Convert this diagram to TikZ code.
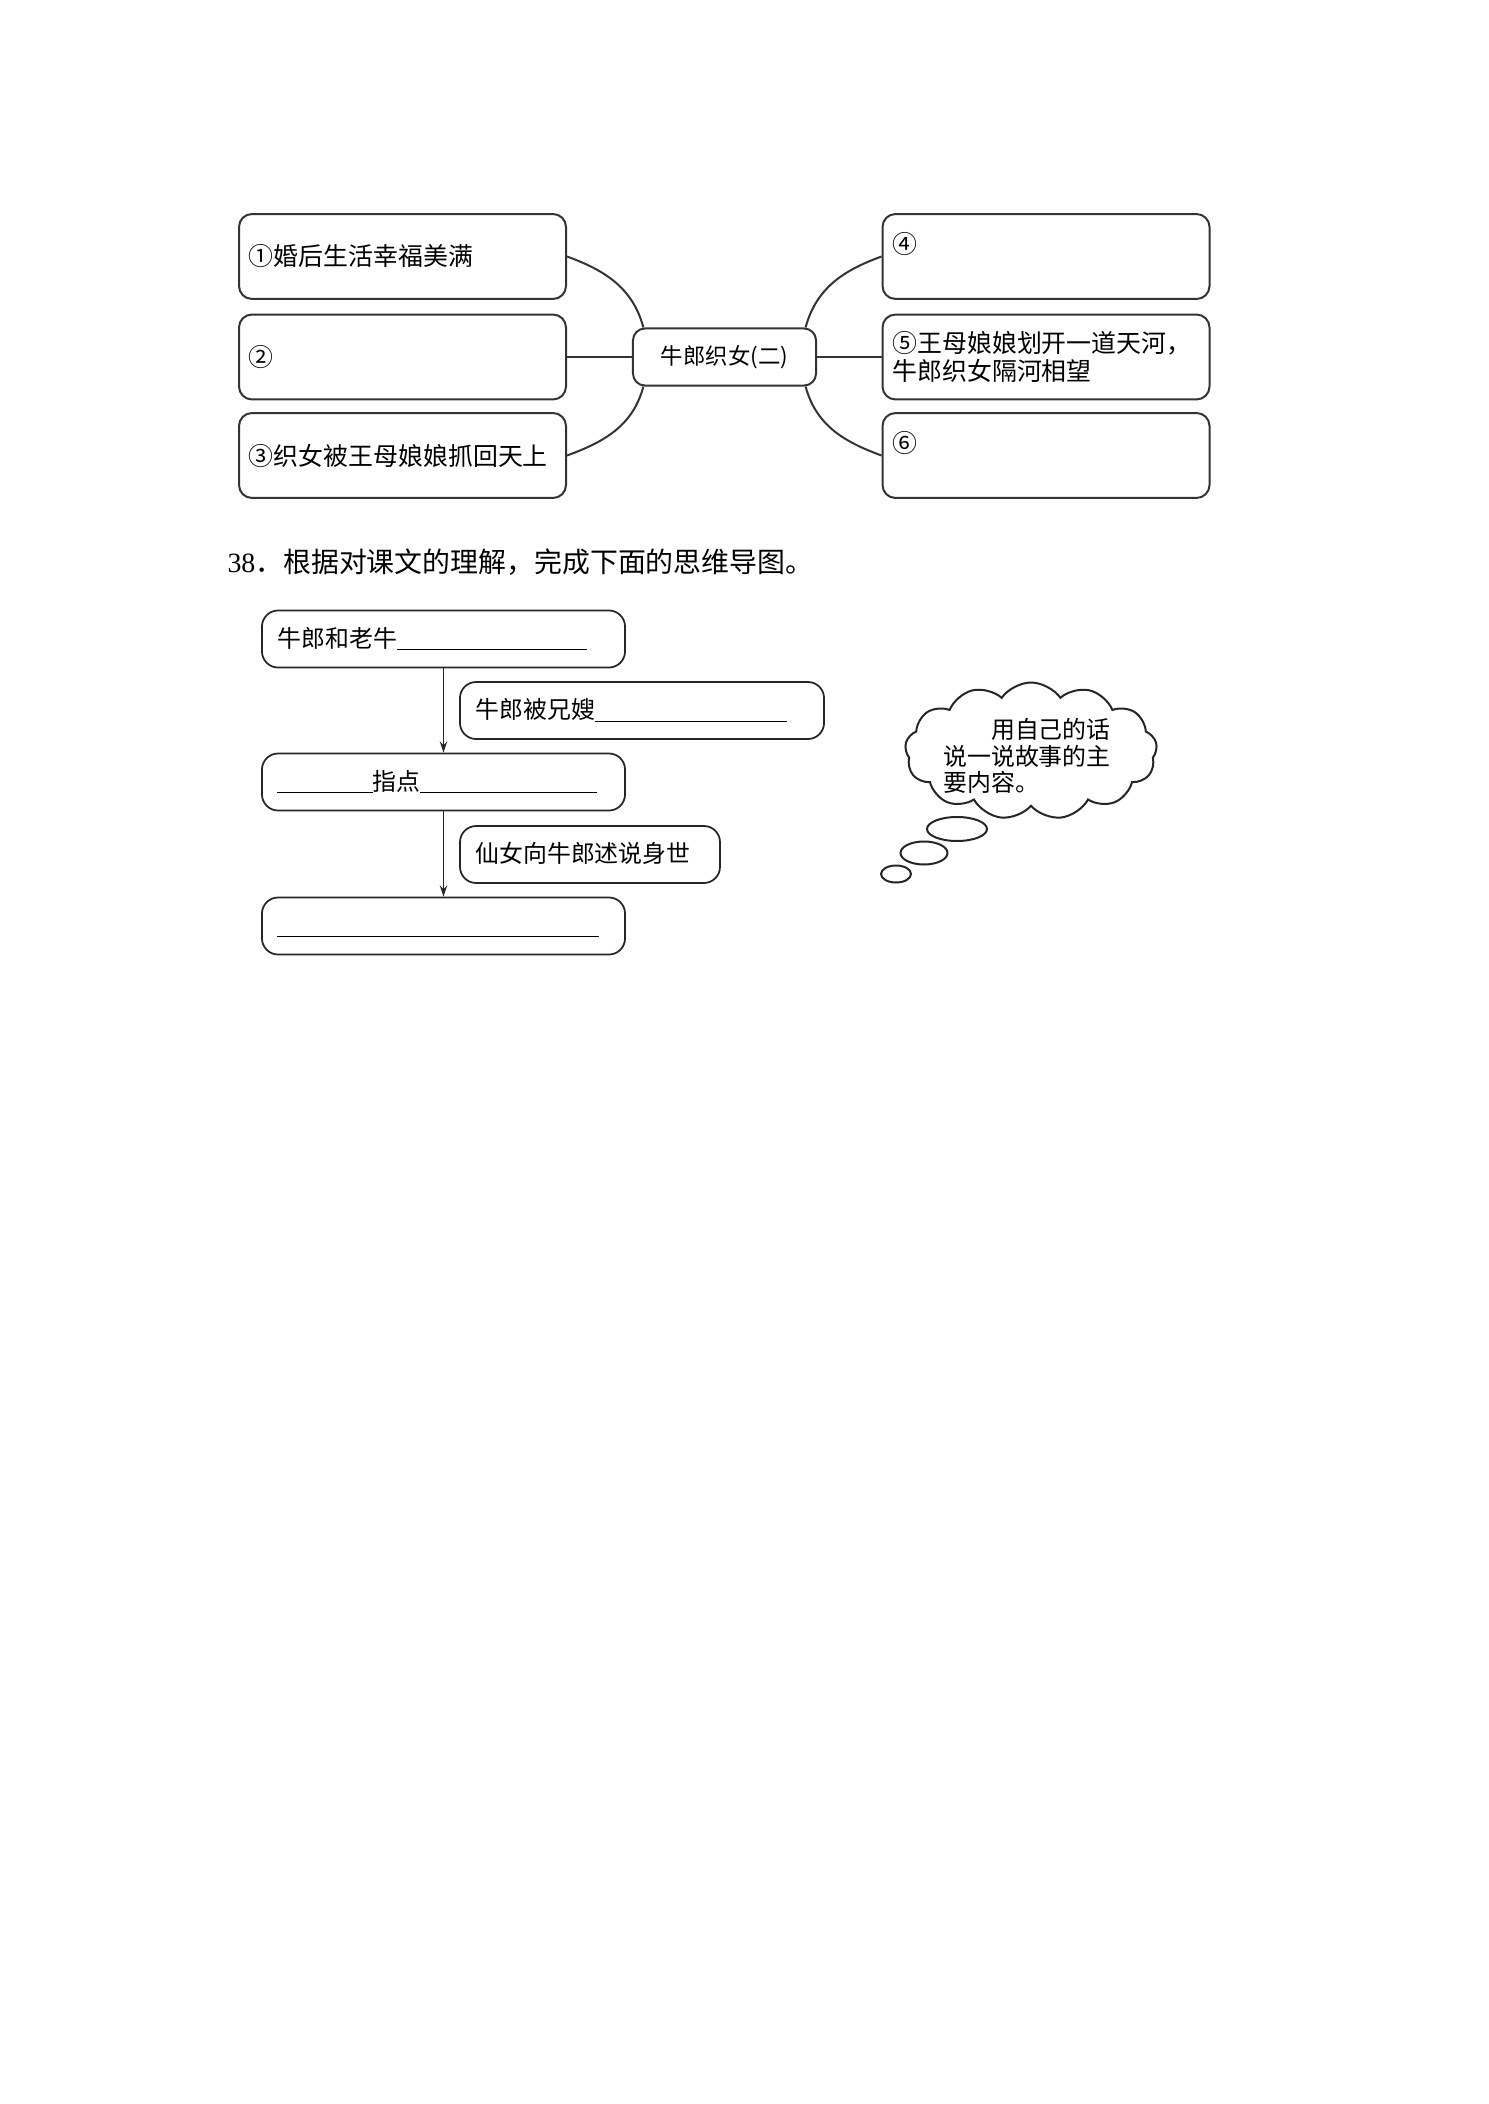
\documentclass[tikz,border=0pt]{standalone}
\usepackage{fontspec}
\setmainfont{Liberation Serif}
\newfontfamily\cjk{Noto Sans CJK SC}
\usetikzlibrary{shapes.symbols,arrows.meta}

\newcommand{\leaffont}{\cjk\fontsize{10pt}{11.25pt}\selectfont}
\newcommand{\hubfont}{\cjk\fontsize{9pt}{10pt}\selectfont}
\newcommand{\stagefont}{\cjk\fontsize{9.6pt}{10.5pt}\selectfont}
\newcommand{\blank}[1]{\rule[-1.2pt]{#1}{0.5pt}}

\begin{document}
\begin{tikzpicture}[
    x=0.141129mm, y=-0.141129mm,
    leaf/.style={
        draw=black!80,
        line width=0.8pt,
        rounded corners=5.2pt,
        minimum height=34.1pt,
        text width=123.3pt,
        inner xsep=4pt,
        align=left,
        font=\leaffont
    },
    hub/.style={
        draw=black!80,
        line width=0.8pt,
        rounded corners=4.8pt,
        minimum width=73.5pt,
        minimum height=22.9pt,
        font=\hubfont
    },
    link/.style={black!80, line width=0.8pt},
    stage/.style={
        draw=black!85,
        line width=0.7pt,
        rounded corners=6.5pt,
        minimum height=22.9pt,
        inner xsep=6.2pt,
        align=left,
        text height=8pt,
        text depth=1.2pt,
        font=\stagefont
    },
    flow/.style={black!85, line width=0.7pt, -{Stealth[length=4.5pt,width=3pt]}},
    bubble/.style={
        cloud, draw=black!85,
        line width=0.8pt,
        cloud puffs=13,
        cloud puff arc=110,
        cloud ignores aspect,
        minimum width=101.2pt,
        minimum height=55pt
    }
]
\useasboundingbox (0,0) rectangle (1488,2104);

% Left boxes
\node[leaf] (b1) at (402.5,256.5) {①婚后生活幸福美满};
\node[leaf] (b2) at (402.5,357) {②};
\node[leaf] (b3) at (402.5,455.5) {③织女被王母娘娘抓回天上};

% Right boxes
\node[leaf] (b4) at (1046,256.5) {④\\~};
\node[leaf] (b5) at (1046,357) {⑤王母娘娘划开一道天河，\\牛郎织女隔河相望};
\node[leaf] (b6) at (1046,455.5) {⑥\\~};

% Centre
\node[hub] (hub) at (724.5,357) {牛郎织女(二)};

% Links
\draw[link] (b1.east) to[out=-20, in=105] (hub.160);
\draw[link] (b2.east) -- (hub.west);
\draw[link] (b3.east) to[out=20, in=-105] (hub.200);
\draw[link] (hub.20) to[out=75, in=200] (b4.west);
\draw[link] (hub.east) -- (b5.west);
\draw[link] (hub.-20) to[out=-75, in=160] (b6.west);

% Question
\node[anchor=west, inner sep=0, font=\fontsize{11.2pt}{13pt}\selectfont] (quest) at (227,562)
    {38{\cjk．根据对课文的理解，完成下面的思维导图。}};

% Flow boxes
\node[stage, text width=133.4pt] (sA) at (443.5,639) {牛郎和老牛\blank{76.3pt}};
\node[stage, text width=133.8pt] (sB) at (642,710.5) {牛郎被兄嫂\blank{77.1pt}};
\node[stage, text width=133.4pt] (sC) at (443.5,782) {\blank{38.2pt}指点\blank{71.1pt}};
\node[stage, text width=92pt] (sD) at (590,854.5) {仙女向牛郎述说身世};
\node[stage, text width=133.4pt] (sE) at (443.5,926) {\blank{129.3pt}};

\draw[flow] (sA.south) -- (sC.north);
\draw[flow] (sC.south) -- (sE.north);

% Thought cloud
\node[bubble] (cloud) at (1031,751) {};
\node[align=left, inner sep=0, font=\stagefont] (thought) at (1027,756)
    {\hspace*{2em}用自己的话\\说一说故事的主\\要内容。};
\draw[black!85, line width=0.8pt] (957,829) ellipse [x radius=30, y radius=12];
\draw[black!85, line width=0.8pt] (924,853) ellipse [x radius=23.5, y radius=11.5];
\draw[black!85, line width=0.8pt] (896,874) ellipse [x radius=15, y radius=8.5];

\end{tikzpicture}
\end{document}
